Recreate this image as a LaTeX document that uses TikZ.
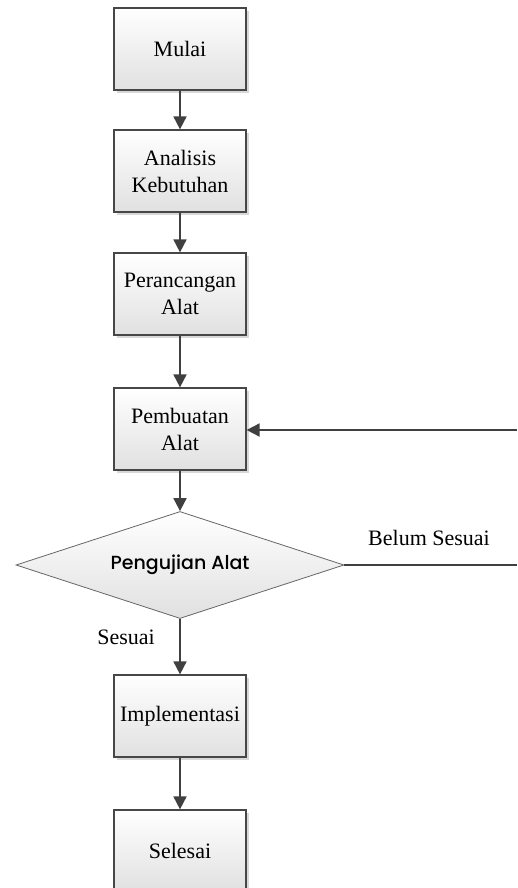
\documentclass[tikz,border=0pt]{standalone}
\usepackage{fontspec}
\setmainfont{Liberation Serif}
\newfontfamily\gothicfont{Poppins}[UprightFont={* Medium}]
\usetikzlibrary{shapes.geometric,arrows.meta,shadows}

\begin{document}
\begin{tikzpicture}[x=1pt,y=-1pt,
    procbox/.style={draw=black!72, line width=1.2pt, top color=white, bottom color=black!12,
        minimum width=132pt, minimum height=82pt, align=center, inner sep=2pt,
        font=\fontsize{22}{27}\selectfont,
        drop shadow={shadow xshift=3pt, shadow yshift=-3pt, fill=black!30, opacity=0.5}},
    decision/.style={diamond, aspect=3, draw=black!60, line width=0.8pt, top color=white,
        bottom color=black!12, minimum width=328pt, minimum height=107pt, inner sep=0pt,
        font=\gothicfont\fontsize{19}{24}\selectfont},
    flow/.style={draw=black!75, line width=1.8pt, -{Triangle[width=13pt,length=13pt]}},
    lbl/.style={font=\fontsize{22}{27}\selectfont}]
    \useasboundingbox (0,0) rectangle (517,888);

    % Draw the steps
    \node[procbox] (mulai) at (180,49) {Mulai};
    \node[procbox] (analisis) at (180,171) {Analisis\\Kebutuhan};
    \node[procbox] (rancang) at (180,294) {Perancangan\\Alat};
    \node[procbox] (buat) at (180,429) {Pembuatan\\Alat};
    \node[decision] (uji) at (180,565) {Pengujian Alat};
    \node[procbox] (impl) at (180,716) {Implementasi};
    \node[procbox] (selesai) at (180,851) {Selesai};

    % Branch labels
    \node[lbl] (belum) at (429,538) {Belum Sesuai};
    \node[lbl] (sesuai) at (126,637) {Sesuai};

    % Loop back ends at the right edge
    \coordinate (kanan1) at (517,565);
    \coordinate (kanan2) at (517,430);

    % Draw the arrows
    \draw[flow] (mulai) -- (analisis);
    \draw[flow] (analisis) -- (rancang);
    \draw[flow] (rancang) -- (buat);
    \draw[flow] (buat) -- (uji);
    \draw[flow] (uji) -- (impl);
    \draw[flow] (impl) -- (selesai);
    \draw[flow, -] (uji.east) -- (kanan1);
    \draw[flow] (kanan2) -- (buat.east |- kanan2);
\end{tikzpicture}
\end{document}
